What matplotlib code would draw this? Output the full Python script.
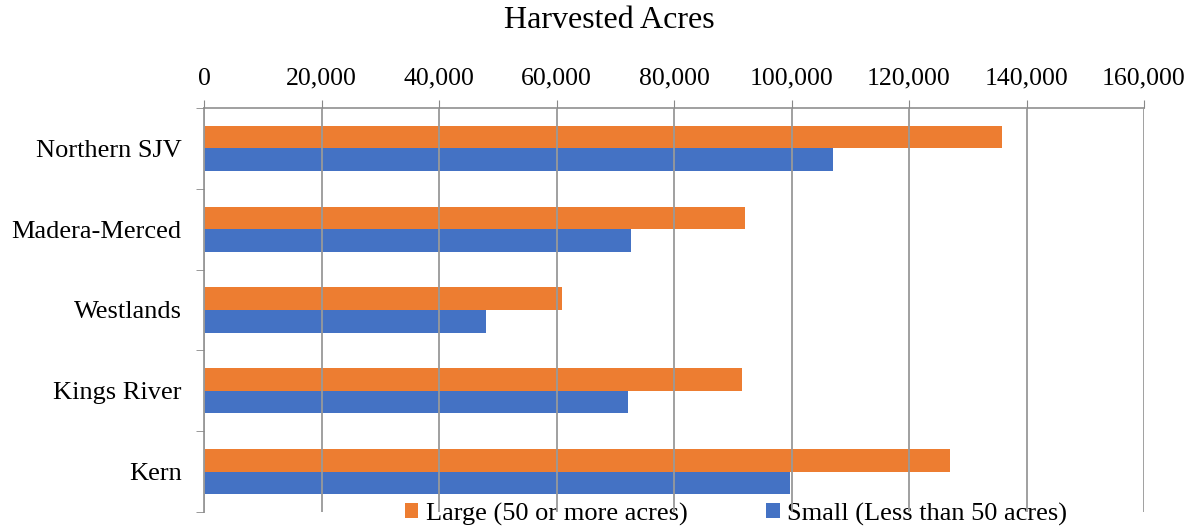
import matplotlib.pyplot as plt
import numpy as np

regions = ['Northern SJV', 'Madera-Merced', 'Westlands', 'Kings River', 'Kern']
large = [135800, 92000, 60900, 91500, 126900]
small = [107000, 72600, 48000, 72100, 99800]
xticks = [0, 20000, 40000, 60000, 80000, 100000, 120000, 140000, 160000]

plt.rcParams['font.family'] = ['Liberation Serif', 'DejaVu Serif']

fig = plt.figure(figsize=(11.95, 5.31), dpi=100)
ax = fig.add_axes([204 / 1195, 1 - 512 / 531, 940 / 1195, 404 / 531])
ax.set_facecolor('none')

y = np.arange(len(regions))
h = 0.28
ax.barh(y - h / 2, large, height=h, color='#ED7D31', label='Large (50 or more acres)', zorder=2)
ax.barh(y + h / 2, small, height=h, color='#4472C4', label='Small (Less than 50 acres)', zorder=2)

ax.set_ylim(4.5, -0.5)
ax.set_xlim(0, 160000)
ax.set_yticks(y)
ax.set_yticklabels(regions, fontsize=19)
ax.set_yticks(np.arange(-0.5, 5, 1), minor=True)
ax.tick_params(axis='y', which='major', length=0, pad=16)
ax.tick_params(axis='y', which='minor', length=6, color='#888888', direction='out')

ax.xaxis.tick_top()
ax.set_xticks(xticks)
ax.set_xticklabels([f'{v:,}' for v in xticks], fontsize=18.5)
ax.tick_params(axis='x', length=6, color='#888888', pad=7)
ax.grid(axis='x', color='#999999', linewidth=1.3, zorder=3)
ax.set_axisbelow(False)

for s in ['right', 'bottom']:
    ax.spines[s].set_visible(False)
ax.spines['top'].set_color('#999999')
ax.spines['left'].set_color('#999999')
ax.spines['top'].set_linewidth(1.3)
ax.spines['left'].set_linewidth(1.3)

fig.text(609 / 1195, 1 - 21 / 531, 'Harvested Acres', ha='center', va='center', fontsize=23)

leg = fig.legend(loc='center', bbox_to_anchor=(736 / 1195, 1 - 514 / 531), ncol=2, frameon=False,
                 fontsize=19, handlelength=0.5, handleheight=0.5, handletextpad=0.27, columnspacing=3.0,
                 borderaxespad=0)
leg.set_zorder(-1)

fig.savefig('out.png', dpi=100)
